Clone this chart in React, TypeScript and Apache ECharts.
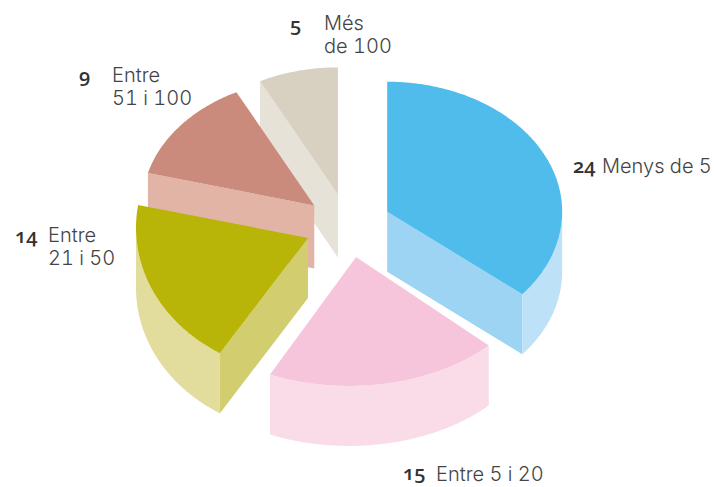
import React, { useEffect, useRef } from "react";
import * as echarts from "echarts";

const categories = ["Menys de 5", "Entre 5 i 20", "Entre\n21 i 50", "Entre\n51 i 100", "Més\nde 100"];
const values = [24, 15, 14, 9, 5];
const topColors = ["#4fbcec", "#f6c5dc", "#b9b508", "#cb8b7c", "#d8d0c0"];
const faceColors = ["#9dd3f3", "#f6c5dc", "#d2cd6f", "#e1b4a6", "#e6e2d8"];
const wallColors = ["#bde2f8", "#fadbe8", "#e2dd9d", "#e1b4a6", "#e6e2d8"];
const drawOrder = [4, 3, 2, 0, 1];
const numberPos = [[573, 155], [403, 462], [15, 225], [79, 65], [290, 14]];
const labelPos = [[602, 154], [436, 462], [48, 223], [112, 63], [324, 11]];

const CX = 348, CY = 225.5, RX = 175, RY = 129, EXPLODE = 0.248;
// hand-drawn perspective of the original: per-slice depth, arc ellipse and ray nudges
const depths = [60, 60, 60, 63, 63];
const arcShape = [
  { ex: 0, ey: 0, a: 175, b: 130 },
  { ex: -7, ey: 0, a: 192, b: 129 },
  { ex: 0, ey: -10, a: 172, b: 146 },
  { ex: 0, ey: 0, a: 172, b: 127 },
  { ex: 0, ey: 0, a: 172, b: 127 },
];
const startNudge = [0, 3.2, -0.2, 0, 0];
const endNudge = [0.7, -1.2, 0, 0, 0];
const total = values.reduce((a, b) => a + b, 0);
const rad = (d: number) => (d * Math.PI) / 180;

function renderSlice(params: any, api: any) {
  const idx = api.value(1) as number;
  let start = 0;
  for (let i = 0; i < idx; i++) start += (values[i] / total) * 360;
  const sweep = (api.value(0) / total) * 360;
  const end = start + sweep;
  const mid = rad(start + sweep / 2);
  const ox = CX + EXPLODE * RX * Math.sin(mid);
  const oy = CY - EXPLODE * RY * Math.cos(mid);
  const depth = depths[idx];
  const { ex, ey, a, b } = arcShape[idx];
  const pt = (phi: number, dy = 0): number[] => [
    ox + ex + a * Math.sin(rad(phi)),
    oy + ey - b * Math.cos(rad(phi)) + dy,
  ];
  // parametric angle on the slice's ellipse where the ray at `ang` from the apex meets it
  const rayPhi = (ang: number) => {
    const dx = (RX * Math.sin(rad(ang))) / a;
    const dy = (-RY * Math.cos(rad(ang))) / b;
    const px = -ex / a;
    const py = -ey / b;
    const A = dx * dx + dy * dy;
    const B = 2 * (px * dx + py * dy);
    const C = px * px + py * py - 1;
    const t = (-B + Math.sqrt(B * B - 4 * A * C)) / (2 * A);
    const x = px + t * dx;
    const y = py + t * dy;
    let phi = (Math.atan2(x, -y) * 180) / Math.PI;
    if (phi < -1e-9) phi += 360;
    return phi;
  };
  const phi0 = rayPhi(start + startNudge[idx]);
  let phi1 = rayPhi(end + endNudge[idx]);
  while (phi1 <= phi0) phi1 += 360;
  const arc = (a0: number, a1: number, dy = 0) => {
    const out: number[][] = [];
    const n = Math.max(2, Math.ceil(Math.abs(a1 - a0) * 2));
    for (let k = 0; k <= n; k++) out.push(pt(a0 + ((a1 - a0) * k) / n, dy));
    return out;
  };
  const children: any[] = [];
  const face = (phi: number) => {
    children.push({
      type: "polygon",
      shape: { points: [[ox, oy], pt(phi), pt(phi, depth), [ox, oy + depth]] },
      style: { fill: faceColors[idx] },
    });
  };
  if (Math.sin(rad(start)) < -1e-6) face(phi0);
  if (Math.sin(rad(end)) > 1e-6) face(phi1);
  const w0 = Math.max(phi0, 90), w1 = Math.min(phi1, 270);
  if (w1 > w0) {
    children.push({
      type: "polygon",
      shape: { points: [...arc(w0, w1), ...arc(w1, w0, depth)] },
      style: { fill: wallColors[idx] },
    });
  }
  children.push({
    type: "polygon",
    shape: { points: [[ox, oy], ...arc(phi0, phi1)] },
    style: { fill: topColors[idx] },
  });
  return { type: "group", children };
}

export default function App() {
  const ref = useRef<HTMLDivElement>(null);
  useEffect(() => {
    const chart = echarts.init(ref.current!, null, { renderer: "svg" });
    const numberTexts = values.map((v, i) => ({
      type: "text",
      x: numberPos[i][0],
      y: numberPos[i][1],
      style: {
        text: String(v),
        fontFamily: "Open Sans",
        fontWeight: 600,
        fontSize: 20,
        fill: "#333333",
        verticalAlign: "top",
      },
    }));
    const labelTexts = categories.map((c, i) => ({
      type: "text",
      x: labelPos[i][0],
      y: labelPos[i][1],
      style: {
        text: c,
        fontFamily: "Inter",
        fontWeight: 300,
        fontSize: 20,
        lineHeight: 23.5,
        fill: "#444444",
        verticalAlign: "top",
      },
    }));
    chart.setOption({
      animation: false,
      backgroundColor: "#ffffff",
      series: [
        {
          type: "custom",
          coordinateSystem: "none",
          renderItem: renderSlice,
          data: drawOrder.map((i) => [values[i], i]),
          silent: true,
        },
      ],
      graphic: [...numberTexts, ...labelTexts],
    });
    const numbers = values.map(String);
    ref.current!.querySelectorAll("text").forEach((el) => {
      const s = (el as unknown as HTMLElement).style;
      if (numbers.includes((el.textContent || "").trim())) {
        s.fontFeatureSettings = '"onum" 1';
        s.fontVariantNumeric = "oldstyle-nums";
      } else {
        s.fontFeatureSettings = '"tnum" 1';
      }
    });
    return () => chart.dispose();
  }, []);
  return <div ref={ref} style={{ position: "fixed", left: 0, top: 0, width: 714, height: 487 }} />;
}
